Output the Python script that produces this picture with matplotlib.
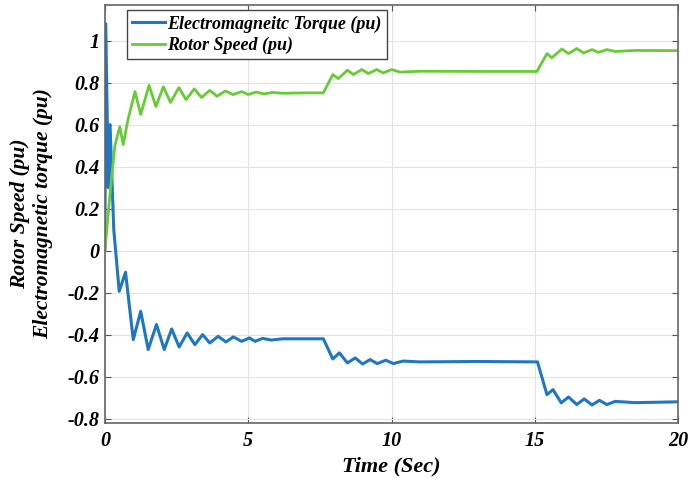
import numpy as np
import matplotlib
matplotlib.use("Agg")
import matplotlib.pyplot as plt

# Rotor speed (pu), peaks and troughs of the oscillations
speed_t = [0.0, 0.2, 0.35, 0.52, 0.64, 0.8, 1.05, 1.25, 1.54, 1.78, 2.04, 2.29, 2.58, 2.83,
           3.12, 3.37, 3.66, 3.91, 4.21, 4.47, 4.77, 5.0, 5.27, 5.55, 5.85, 6.2, 7.0, 7.62,
           7.95, 8.14, 8.46, 8.67, 8.96, 9.19, 9.48, 9.71, 10.0, 10.3, 11.0, 13.0, 15.07,
           15.42, 15.59, 15.94, 16.17, 16.46, 16.7, 16.99, 17.22, 17.51, 17.8, 18.5, 20.0]
speed_v = [0.0, 0.3, 0.5, 0.59, 0.505, 0.62, 0.757, 0.648, 0.787, 0.686, 0.78, 0.705, 0.776, 0.719,
           0.77, 0.729, 0.763, 0.735, 0.76, 0.743, 0.757, 0.743, 0.755, 0.746, 0.753, 0.749, 0.751, 0.751,
           0.838, 0.819, 0.859, 0.838, 0.862, 0.843, 0.862, 0.846, 0.862, 0.85, 0.854, 0.853, 0.853,
           0.938, 0.918, 0.96, 0.938, 0.962, 0.941, 0.957, 0.944, 0.957, 0.948, 0.953, 0.952]

# Electromagnetic torque (pu)
torque_t = [0.0, 0.03, 0.12, 0.18, 0.31, 0.5, 0.72, 0.99, 1.25, 1.51, 1.8, 2.07, 2.33, 2.59, 2.87,
            3.14, 3.41, 3.66, 3.95, 4.22, 4.48, 4.77, 5.04, 5.24, 5.5, 5.8, 6.2, 7.0, 7.62,
            7.95, 8.18, 8.46, 8.73, 8.99, 9.25, 9.5, 9.8, 10.06, 10.4, 11.0, 13.0, 15.09,
            15.42, 15.63, 15.92, 16.17, 16.46, 16.72, 16.99, 17.25, 17.51, 17.8, 18.5, 20.0]
torque_v = [0.0, 1.08, 0.3, 0.6, 0.1, -0.194, -0.103, -0.424, -0.289, -0.471, -0.352, -0.471, -0.373, -0.459, -0.392,
            -0.448, -0.4, -0.44, -0.408, -0.435, -0.411, -0.432, -0.416, -0.432, -0.418, -0.426, -0.42, -0.42, -0.42,
            -0.516, -0.487, -0.535, -0.511, -0.54, -0.519, -0.538, -0.522, -0.538, -0.526, -0.53, -0.528, -0.53,
            -0.686, -0.662, -0.725, -0.697, -0.733, -0.706, -0.735, -0.713, -0.733, -0.718, -0.724, -0.72]

xticks = [0, 5, 10, 15, 20]
yticks = [-0.8, -0.6, -0.4, -0.2, 0, 0.2, 0.4, 0.6, 0.8, 1]
ytick_labels = ['-0.8', '-0.6', '-0.4', '-0.2', '0', '0.2', '0.4', '0.6', '0.8', '1']

plt.rcParams['font.family'] = ['Liberation Serif', 'DejaVu Serif']
font = dict(weight='bold', style='italic')

fig = plt.figure(figsize=(6.9, 4.86), dpi=100)
ax = fig.add_axes([0.152, 0.13, 0.831, 0.86])

ax.plot(torque_t, torque_v, color='#1f77c4', lw=2.2, solid_joinstyle='round',
        label='Electromagneitc Torque (pu)')
ax.plot(speed_t, speed_v, color='#66cc33', lw=2.0, solid_joinstyle='round',
        label='Rotor Speed (pu)')

ax.set_xlim(0, 20)
ax.set_ylim(-0.82, 1.17)
ax.set_xticks(xticks)
ax.set_yticks(yticks)
ax.set_xticklabels([str(x) for x in xticks], fontsize=14.5, **font)
ax.set_yticklabels(ytick_labels, fontsize=14.5, **font)
ax.tick_params(direction='in', top=True, right=True, length=4, color='#555555')
ax.tick_params(axis='x', pad=6)
ax.tick_params(axis='y', pad=4)
ax.grid(True, color='#e3e3e3', lw=0.8)
for s in ax.spines.values():
    s.set_color('#666666')
    s.set_linewidth(1.2)

ax.set_xlabel('Time (Sec)', fontsize=16, labelpad=4, **font)
ax.set_ylabel('Rotor Speed (pu)\nElectromagnetic torque (pu)', fontsize=15.5,
              linespacing=1.2, **font)
ax.yaxis.set_label_coords(-0.09, 0.5)

leg = ax.legend(loc='upper left', bbox_to_anchor=(0.038, 0.988), borderaxespad=0,
                fancybox=False, framealpha=1, edgecolor='#444444', handlelength=1.8,
                borderpad=0.3, labelspacing=0.22, handletextpad=0.15,
                prop=dict(family=['Liberation Serif'], weight='bold', style='italic', size=13))
leg.get_frame().set_linewidth(1.0)

fig.savefig('out.png', dpi=100)
